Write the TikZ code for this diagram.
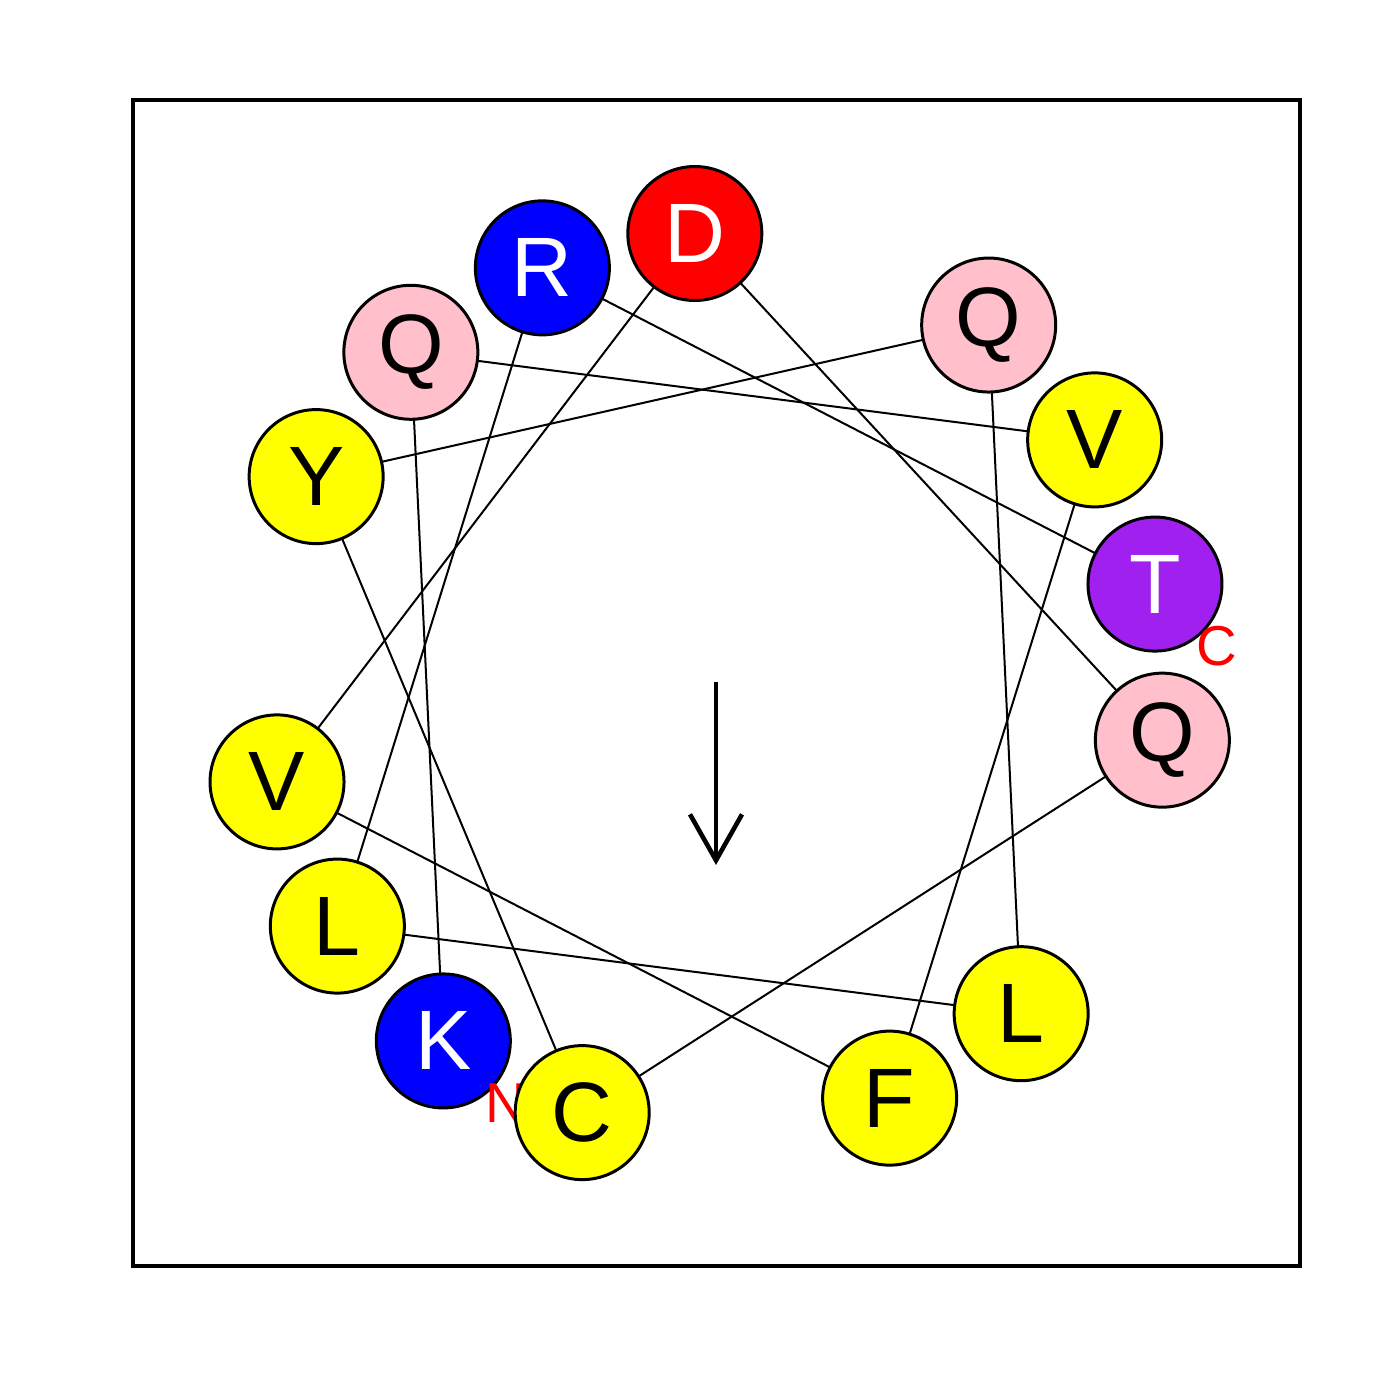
\documentclass[tikz,border=0pt]{standalone}
\usepackage{fontspec}
\setmainfont{Liberation Sans}
\usetikzlibrary{arrows.meta, backgrounds}
\usepackage{xcolor}
\definecolor{wheelyellow}{RGB}{255,255,0}
\definecolor{wheelpink}{RGB}{255,192,203}
\definecolor{wheelblue}{RGB}{0,0,255}
\definecolor{wheelred}{RGB}{255,0,0}
\definecolor{wheelpurple}{RGB}{160,32,240}

\begin{document}
\begin{tikzpicture}[
    res/.style={circle, draw=black, line width=0.85pt, minimum size=1.34cm,
                inner sep=0pt, font=\fontsize{24}{24}\selectfont},
    reshyd/.style={res, fill=wheelyellow, text=black},
    respol/.style={res, fill=wheelpink, text=black},
    respos/.style={res, fill=wheelblue, text=white},
    resneg/.style={res, fill=wheelred, text=white},
    resoth/.style={res, fill=wheelpurple, text=white},
    link/.style={line width=0.57pt, black},
    endlbl/.style={text=wheelred, inner sep=0pt, font=\fontsize{16}{16}\selectfont},
]
    \useasboundingbox (0,0) rectangle (14,14);
    \draw[line width=1.1pt] (1.33,1.34) rectangle (13.00,13.00);
    \coordinate (ctr) at (7.16,7.17);

    % first residue, then the N label, then the rest of the wheel
    \node[respos] (res0) at ([shift={(232.7:4.5)}]ctr) {K};
    \node[endlbl] (nterm) at ([shift={(0.62,-0.62)}]res0.center) {N};
    \foreach \i/\aa/\kind in {1/Q/respol, 2/V/reshyd, 3/F/reshyd, 4/V/reshyd, 5/D/resneg,
                              6/Q/respol, 7/C/reshyd, 8/Y/reshyd, 9/Q/respol, 10/L/reshyd,
                              11/L/reshyd, 12/R/respos, 13/T/resoth} {
        \pgfmathsetmacro{\ang}{232.7-100*\i}
        \node[\kind] (res\i) at ([shift={(\ang:4.5)}]ctr) {\aa};
    }
    \node[endlbl] (cterm) at ([shift={(0.62,-0.62)}]res13.center) {C};

    \begin{scope}[on background layer]
        \foreach \i [evaluate=\i as \j using int(\i+1)] in {0,...,12}
            \draw[link] (res\i.center) -- (res\j.center);
    \end{scope}

    % moment arrow
    \coordinate (tail) at (7.16,7.18);
    \coordinate (tip) at (7.16,5.35);
    \draw[line width=1.3pt, -{Straight Barb[length=0.46cm, width=0.52cm]}] (tail) -- (tip);
\end{tikzpicture}
\end{document}
